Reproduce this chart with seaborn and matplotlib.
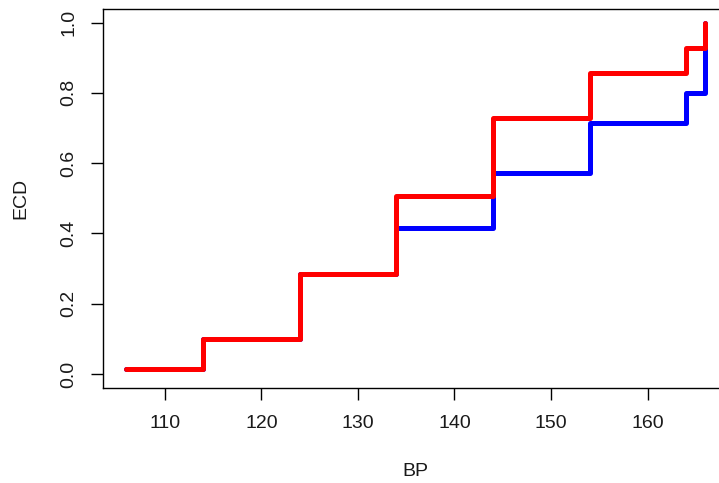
import matplotlib
matplotlib.use("Agg")
import matplotlib.pyplot as plt
import seaborn as sns
import pandas as pd

# Empirical cumulative distribution of blood pressure for two groups
bp = [106, 114, 124, 134, 144, 154, 164, 166]
ecd_blue = [0.0143, 0.1, 0.2857, 0.4143, 0.5714, 0.7143, 0.8, 1.0]
ecd_red = [0.0143, 0.1, 0.2857, 0.5071, 0.7286, 0.8571, 0.9286, 1.0]
x_ticks = [110, 120, 130, 140, 150, 160]
y_ticks = [0.0, 0.2, 0.4, 0.6, 0.8, 1.0]

sns.set_style("ticks")
plt.rcParams["font.family"] = ["Liberation Sans", "DejaVu Sans"]

fig = plt.figure(figsize=(7.19, 4.83), dpi=100)
ax = fig.add_axes([103 / 719, 95 / 483, 625.6 / 719, 379.5 / 483])

df_blue = pd.DataFrame({"BP": bp, "ECD": ecd_blue})
df_red = pd.DataFrame({"BP": bp, "ECD": ecd_red})

line_kw = dict(drawstyle="steps-post", linewidth=3.6,
               solid_capstyle="round", solid_joinstyle="round")
sns.lineplot(data=df_blue, x="BP", y="ECD", color="#0000FF", ax=ax, **line_kw)
sns.lineplot(data=df_red, x="BP", y="ECD", color="#FF0000", ax=ax, **line_kw)

ax.set_xlim(103.6, 168.4)
ax.set_ylim(-0.04, 1.04)
ax.set_xticks(x_ticks)
ax.set_xticklabels([str(v) for v in x_ticks])
ax.set_yticks(y_ticks)
ax.set_yticklabels([f"{v:.1f}" for v in y_ticks], rotation=90, va="center")

for side in ["left", "right", "top", "bottom"]:
    ax.spines[side].set_visible(True)
    ax.spines[side].set_color("black")
    ax.spines[side].set_linewidth(1.0)

ax.tick_params(axis="both", direction="out", length=8.6, width=1.0,
               color="black", labelsize=14, labelcolor="#1a1a1a")
ax.tick_params(axis="x", pad=11)
ax.tick_params(axis="y", pad=10)

ax.set_xlabel("BP", fontsize=14, color="#1a1a1a")
ax.set_ylabel("ECD", fontsize=14, color="#1a1a1a")
ax.xaxis.set_label_coords(0.4987, -0.1976)
ax.yaxis.set_label_coords(-0.117, 0.5007)

fig.savefig("out.png", dpi=100)
